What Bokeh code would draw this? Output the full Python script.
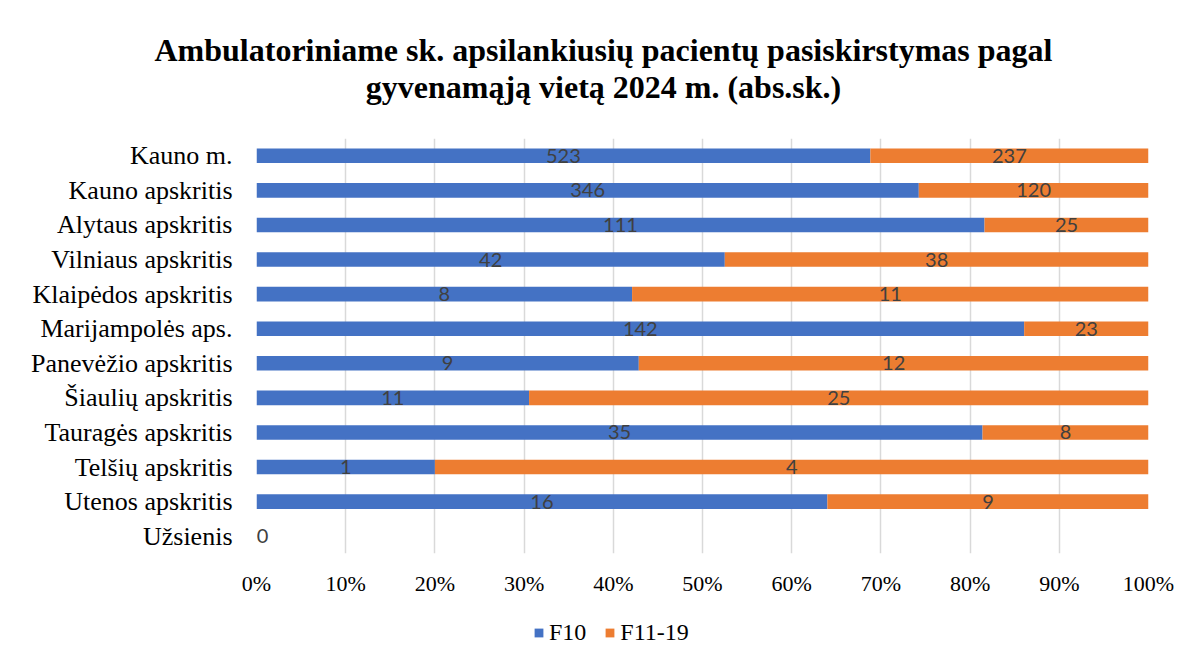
import numpy as np
from bokeh.plotting import figure
from bokeh.core.properties import value
from bokeh.models import (ColumnDataSource, FactorRange, Range1d, Label, LabelSet,
                          Legend, LegendItem, NumeralTickFormatter, FixedTicker)
from bokeh.embed import file_html
from bokeh.resources import INLINE

categories = ["Kauno m.", "Kauno apskritis", "Alytaus apskritis", "Vilniaus apskritis",
              "Klaipėdos apskritis", "Marijampolės aps.", "Panevėžio apskritis",
              "Šiaulių apskritis", "Tauragės apskritis", "Telšių apskritis",
              "Utenos apskritis", "Užsienis"]
f10 = [523, 346, 111, 42, 8, 142, 9, 11, 35, 1, 16, 0]
f11_19 = [237, 120, 25, 38, 11, 23, 12, 25, 8, 4, 9, 0]
series_names = ["F10", "F11-19"]
colors = ["#4472C4", "#ED7D31"]
title_lines = ["Ambulatoriniame sk. apsilankiusių pacientų pasiskirstymas pagal",
               "gyvenamąją vietą 2024 m. (abs.sk.)"]

a = np.array(f10, dtype=float)
b = np.array(f11_19, dtype=float)
tot = a + b
safe = np.where(tot == 0, 1, tot)
pa = a / safe
pb = b / safe
src = ColumnDataSource(dict(cat=categories, F10=pa, F11=pb))

W = 1176
SERIF = "Liberation Serif"


def bare(fig):
    fig.outline_line_color = None
    fig.grid.visible = False
    fig.axis.visible = False
    return fig


# ---- title strip ----
HT = 138
pt = bare(figure(width=W, height=HT, output_backend="svg", toolbar_location=None,
                 x_range=Range1d(0, 1), y_range=Range1d(0, 1), min_border=0))
for t, base in zip(title_lines, [49, 86]):
    pt.add_layout(Label(x=603, y=HT - base, x_units="screen", y_units="screen", text=t,
                        text_align="center", text_baseline="alphabetic",
                        text_font=SERIF, text_font_style="bold",
                        text_font_size="32px", text_color="#000000"))

# ---- main chart ----
p = figure(width=W, height=462, output_backend="svg", toolbar_location=None,
           y_range=FactorRange(*categories[::-1], range_padding=0),
           x_range=Range1d(0, 1),
           min_border_left=256, min_border_right=28, min_border_top=0, min_border_bottom=47)

p.hbar_stack(["F10", "F11"], y="cat", height=0.42, color=colors, source=src, line_width=0)

lx, ly, lt, lo = [], [], [], []
for i, c in enumerate(categories):
    if tot[i] == 0:
        lx.append(0.0); ly.append(c); lt.append(str(f10[i])); lo.append(6)
        continue
    lx.append(pa[i] / 2); ly.append(c); lt.append(str(f10[i])); lo.append(0)
    lx.append(pa[i] + pb[i] / 2); ly.append(c); lt.append(str(f11_19[i])); lo.append(0)
lsrc = ColumnDataSource(dict(x=lx, y=ly, t=lt, o=lo))
p.add_layout(LabelSet(x="x", y="y", text="t", source=lsrc, x_offset="o", y_offset=0,
                      text_align="center", text_baseline="middle",
                      text_font=value("Lato"), text_font_size=value("20px"),
                      text_color="#404040"))

p.xaxis.ticker = FixedTicker(ticks=[i / 10 for i in range(11)])
p.xaxis.formatter = NumeralTickFormatter(format="0%")
p.xaxis.axis_line_color = None
p.xaxis.major_tick_line_color = None
p.xaxis.minor_tick_line_color = None
p.xaxis.major_label_text_font = SERIF
p.xaxis.major_label_text_font_size = "22px"
p.xaxis.major_label_text_color = "#000000"
p.xaxis.major_label_standoff = 11

p.yaxis.axis_line_color = None
p.yaxis.major_tick_line_color = None
p.yaxis.minor_tick_line_color = None
p.yaxis.major_label_text_font = SERIF
p.yaxis.major_label_text_font_size = "26px"
p.yaxis.major_label_text_color = "#000000"
p.yaxis.major_label_standoff = 18

p.ygrid.grid_line_color = None
p.xgrid.grid_line_color = "#D9D9D9"
p.xgrid.grid_line_width = 1.5
p.outline_line_color = None

# ---- legend strip (zero-height proxies of the same series; only the legend shows) ----
HL = 52
pl = bare(figure(width=W, height=HL, output_backend="svg", toolbar_location=None,
                 x_range=Range1d(5, 6), y_range=FactorRange(*categories[::-1]),
                 min_border=0))
lr = pl.hbar_stack(["F10", "F11"], y="cat", height=0, color=colors, source=src, line_width=0)
lg = Legend(items=[LegendItem(label=series_names[0], renderers=[lr[0]]),
                   LegendItem(label=series_names[1], renderers=[lr[1]])],
            orientation="horizontal", location=(533, 6),
            label_text_font="'Liberation Serif'", label_text_font_size="24px",
            label_text_color="#000000",
            glyph_width=11, glyph_height=11, label_standoff=5, spacing=18,
            padding=0, margin=0, border_line_color=None, background_fill_alpha=0)
pl.add_layout(lg, "center")

open("out.html", "w").write(file_html([pt, p, pl], INLINE))
